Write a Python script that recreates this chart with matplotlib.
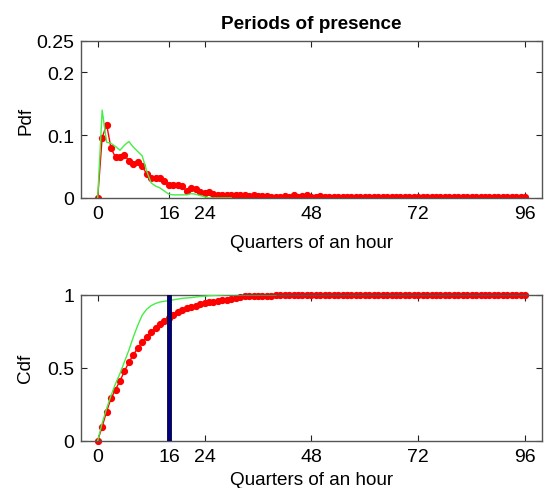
import matplotlib
matplotlib.use("Agg")
import matplotlib.pyplot as plt
import numpy as np

plt.rcParams['font.family'] = ['Liberation Sans', 'DejaVu Sans']

# ---- data ----
quarters = list(range(0, 97))

pdf_observed = [0.0, 0.096, 0.117, 0.079, 0.065, 0.065, 0.069, 0.059, 0.054, 0.058,
                0.051, 0.038, 0.032, 0.032, 0.032, 0.027, 0.021, 0.021, 0.021, 0.019,
                0.011, 0.016, 0.014, 0.010, 0.008, 0.010, 0.006, 0.005, 0.005, 0.004,
                0.005, 0.004, 0.004, 0.004, 0.003, 0.004, 0.003, 0.003, 0.003, 0.002,
                0.002, 0.001, 0.003, 0.002, 0.004, 0.001, 0.003, 0.004, 0.002, 0.001,
                0.003] + [0.001] * 46

pdf_model_x = list(range(0, 31))
pdf_model = [0.0, 0.140, 0.089, 0.087, 0.082, 0.076, 0.084, 0.090, 0.081, 0.074,
             0.067, 0.043, 0.024, 0.019, 0.016, 0.011, 0.006, 0.005, 0.005, 0.005,
             0.005, 0.007, 0.006, 0.004, 0.002, 0.0, 0.0, 0.0, 0.0, 0.0, 0.0]

cdf_observed = [0.0, 0.096, 0.200, 0.290, 0.350, 0.410, 0.475, 0.537, 0.589, 0.633,
                0.678, 0.712, 0.742, 0.772, 0.799, 0.822, 0.840, 0.863, 0.879, 0.895,
                0.907, 0.915, 0.925, 0.935, 0.942, 0.948, 0.953, 0.957, 0.962, 0.967,
                0.972, 0.978, 0.983, 0.988, 0.991, 0.993, 0.993, 0.994, 0.994, 0.994,
                0.995, 0.995, 0.995, 0.995, 0.996, 0.996, 0.996] + [1.0] * 50

cdf_model_x = list(range(0, 41))
cdf_model = [0.0, 0.12, 0.22, 0.31, 0.39, 0.46, 0.54, 0.62, 0.71, 0.79,
             0.86, 0.90, 0.925, 0.94, 0.95, 0.955, 0.96, 0.965, 0.97, 0.975,
             0.978, 0.98, 0.984, 0.988, 0.99, 0.993, 0.995, 0.997, 0.998, 1.0,
             1.0, 1.0, 1.0, 1.0, 1.0, 1.0, 1.0, 1.0, 1.0, 1.0, 1.0]

threshold_x = [16]
threshold_h = [1.0]

xticks = [0, 16, 24, 48, 72, 96]
pdf_yticks = [0, 0.1, 0.2, 0.25]
pdf_yticklabels = ['0', '0.1', '0.2', '0.25']
cdf_yticks = [0, 0.5, 1]
cdf_yticklabels = ['0', '0.5', '1']

# ---- figure ----
W, H = 549, 489
fig = plt.figure(figsize=(W / 100, H / 100), dpi=100)
fig.patch.set_facecolor('white')

ax1 = fig.add_axes([81 / W, 1 - 199 / H, 461 / W, 157 / H])
ax2 = fig.add_axes([81 / W, 1 - 441.7 / H, 461 / W, 146 / H])

red = '#ff0000'
green = '#44ee44'
fs_tick = 14
fs_lab = 13.6
ylabel_x = (34 - 81) / 461

def style(ax, xpad):
    for s in ax.spines.values():
        s.set_color('#555555')
        s.set_linewidth(1.0)
    ax.tick_params(direction='in', top=True, right=True, length=4, width=0.8,
                   color='#222222', labelsize=fs_tick, pad=5)
    ax.set_xlim(-3.75, 99.8)
    ax.set_xticks(xticks)
    ax.set_xticklabels([str(t) for t in xticks])
    ax.set_xlabel('Quarters of an hour', fontsize=fs_lab, labelpad=xpad)

ax1.plot(quarters, pdf_observed, color=red, lw=1.0, marker='o', ms=4.2,
         mfc=red, mec=red, zorder=2)
ax1.plot(pdf_model_x, pdf_model, color=green, lw=1.0, zorder=3)
style(ax1, 8.5)
ax1.set_ylim(0, 0.25)
ax1.set_yticks(pdf_yticks)
ax1.set_yticklabels(pdf_yticklabels)
ax1.set_ylabel('Pdf', fontsize=fs_lab)
ax1.yaxis.set_label_coords(ylabel_x, 0.5)
ax1.set_title('Periods of presence', fontsize=fs_lab, fontweight='bold', pad=9)

ax2.plot(quarters, cdf_observed, color=red, lw=1.0, marker='o', ms=4.2,
         mfc=red, mec=red, zorder=2, clip_on=False)
ax2.plot(cdf_model_x, cdf_model, color=green, lw=1.0, zorder=3)
ax2.bar(threshold_x, threshold_h, width=1.0, color='#000080',
        edgecolor='#000033', linewidth=0.6, zorder=4)
style(ax2, 4.5)
ax2.set_ylim(0, 1.0)
ax2.set_yticks(cdf_yticks)
ax2.set_yticklabels(cdf_yticklabels)
ax2.set_ylabel('Cdf', fontsize=fs_lab)
ax2.yaxis.set_label_coords(ylabel_x, 0.5)

fig.savefig('out.png', dpi=100, facecolor='white')
